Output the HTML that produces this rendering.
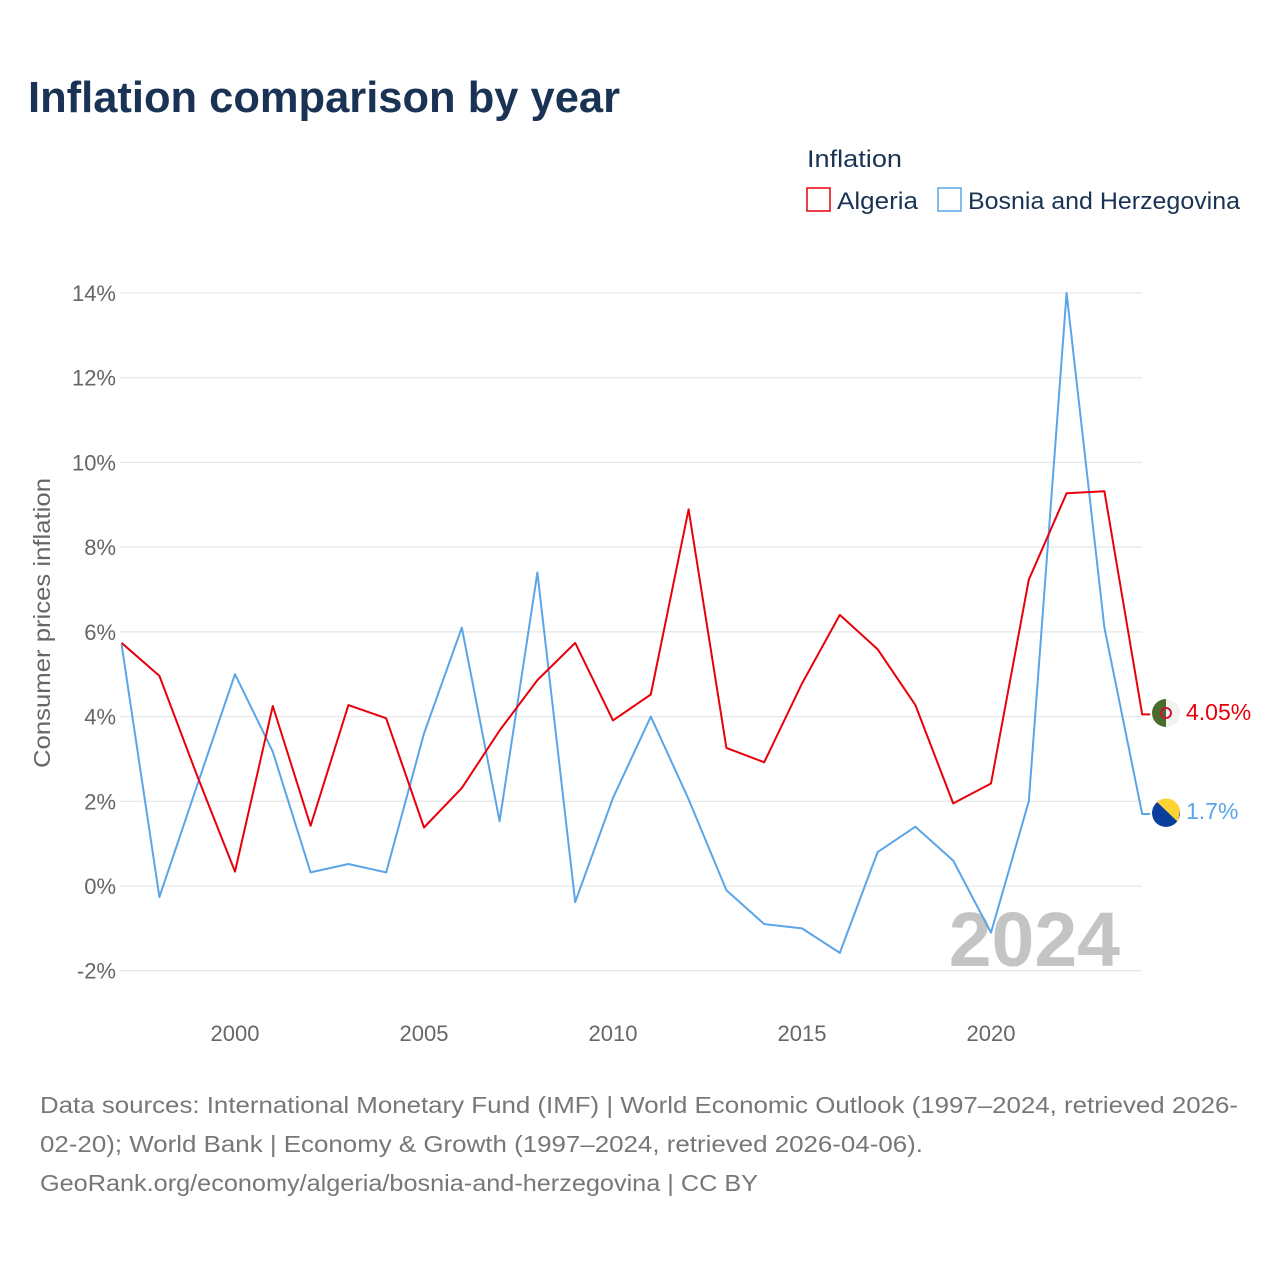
<!DOCTYPE html>
<html><head><meta charset="utf-8"><style>
html,body{margin:0;padding:0;background:#fff;width:1280px;height:1280px;overflow:hidden}
svg text{font-family:"Liberation Sans",sans-serif}
</style></head><body>
<svg id="chart" width="1280" height="1280" xmlns="http://www.w3.org/2000/svg">
<text x="28" y="112" font-size="44" font-weight="bold" fill="#1a3355" textLength="592" lengthAdjust="spacingAndGlyphs">Inflation comparison by year</text>
<text x="807" y="167" font-size="24" fill="#1a3355" textLength="95" lengthAdjust="spacingAndGlyphs">Inflation</text>
<g>
<rect x="807" y="188" width="23" height="23" fill="#fff" stroke="#e8000b" stroke-width="1.5"/>
<text x="837" y="209" font-size="24" fill="#1a3355" textLength="81" lengthAdjust="spacingAndGlyphs">Algeria</text></g>
<g>
<rect x="938" y="188" width="23" height="23" fill="#fff" stroke="#5aa5e8" stroke-width="1.5"/>
<text x="968" y="209" font-size="24" fill="#1a3355" textLength="272" lengthAdjust="spacingAndGlyphs">Bosnia and Herzegovina</text></g>
<text transform="translate(50,623) rotate(-90)" text-anchor="middle" font-size="23" fill="#666" textLength="290" lengthAdjust="spacingAndGlyphs">Consumer prices inflation</text>
<g id="grid"></g>
<g id="yticks"></g>
<g id="xticks"></g>
<text x="1120" y="966" text-anchor="end" font-size="77" font-weight="bold" fill="#c4c4c4">2024</text>
<g id="series"></g>
<g>
<circle cx="1166" cy="713" r="14" fill="#f2f2f2"/>
<path d="M1166 699 A14 14 0 0 0 1166 727 Z" fill="#4a6b2e"/>
<circle cx="1166" cy="713" r="5" fill="none" stroke="#d21034" stroke-width="2"/>
</g>
<g>
<circle cx="1166" cy="813" r="14" fill="#0a3e9c"/>
<path d="M1157 802 A14 14 0 0 1 1180 810 L1178 822 Z" fill="#fdd334"/>
</g>
<text x="1186" y="720" font-size="23" fill="#e8000b">4.05%</text>
<text x="1186" y="819" font-size="23" fill="#5aa5e8">1.7%</text>
<g font-size="23" fill="#777">
<text x="40" y="1113" textLength="1198" lengthAdjust="spacingAndGlyphs">Data sources: International Monetary Fund (IMF) | World Economic Outlook (1997–2024, retrieved 2026-</text>
<text x="40" y="1152" textLength="883" lengthAdjust="spacingAndGlyphs">02-20); World Bank | Economy &amp; Growth (1997–2024, retrieved 2026-04-06).</text>
<text x="40" y="1191" textLength="718" lengthAdjust="spacingAndGlyphs">GeoRank.org/economy/algeria/bosnia-and-herzegovina | CC BY</text>
</g>
</svg>
<script>
const years=[1997,1998,1999,2000,2001,2002,2003,2004,2005,2006,2007,2008,2009,2010,2011,2012,2013,2014,2015,2016,2017,2018,2019,2020,2021,2022,2023,2024];
const algeria=[5.74,4.96,2.6,0.34,4.25,1.42,4.27,3.96,1.38,2.31,3.67,4.86,5.74,3.91,4.52,8.89,3.26,2.92,4.78,6.4,5.59,4.27,1.95,2.42,7.23,9.27,9.32,4.05];
const bosnia=[5.7,-0.26,2.38,5.0,3.17,0.32,0.52,0.32,3.6,6.1,1.53,7.4,-0.38,2.08,4.0,2.05,-0.1,-0.9,-1.0,-1.58,0.8,1.4,0.6,-1.1,2.0,14.0,6.1,1.7];
const yTicks=[-2,0,2,4,6,8,10,12,14];
const xTicks=[2000,2005,2010,2015,2020];
const NS='http://www.w3.org/2000/svg';
const xs=y=>235+(y-2000)*37.8;
const ys=v=>886-v*42.36;
function mk(tag,attrs,parent){const e=document.createElementNS(NS,tag);for(const k in attrs)e.setAttribute(k,attrs[k]);parent.appendChild(e);return e;}
const grid=document.getElementById('grid'),yt=document.getElementById('yticks'),xt=document.getElementById('xticks'),ser=document.getElementById('series');
yTicks.forEach(v=>{
 const l=mk('line',{x1:120,x2:1142,y1:ys(v),y2:ys(v),stroke:'#e6e6e6','stroke-width':1.2},grid);
 
 
 const t=mk('text',{x:116,y:ys(v)+8,'text-anchor':'end','font-size':22,fill:'#666'},yt);
 t.textContent=v+'%';
 
 
});
xTicks.forEach(y=>{
 const t=mk('text',{x:xs(y),y:1041,'text-anchor':'middle','font-size':22,fill:'#666'},xt);
 t.textContent=y;
 
 
});
function line(vals,color,name){
 let d=vals.map((v,i)=>(i?'L':'M')+xs(years[i]).toFixed(1)+' '+ys(v).toFixed(1)).join(' ');
 d+=' L'+(xs(years[years.length-1])+8).toFixed(1)+' '+ys(vals[vals.length-1]).toFixed(1);
 const p=mk('path',{d:d,fill:'none',stroke:color,'stroke-width':2,'stroke-linejoin':'round'},ser);
 
 
}
line(bosnia,'#5aa5e8','line-bosnia');
line(algeria,'#e8000b','line-algeria');
</script>
</body></html>
